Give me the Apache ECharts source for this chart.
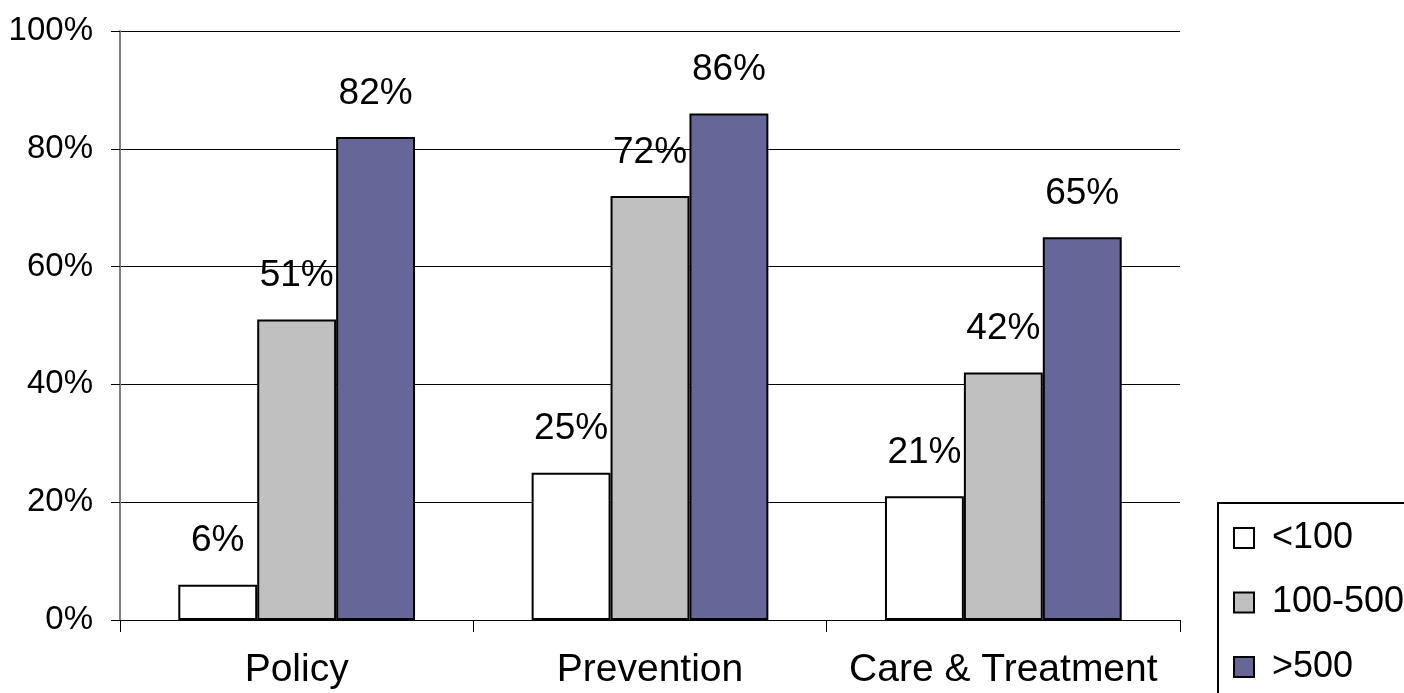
<!DOCTYPE html>
<html>
<head>
<meta charset="utf-8">
<script src="https://cdn.jsdelivr.net/npm/echarts@6/dist/echarts.min.js"></script>
<style>
html,body{margin:0;padding:0;background:#fff;}
#chart{width:1404px;height:693px;}
</style>
</head>
<body>
<div id="chart"></div>
<script>
const categories = ['Policy', 'Prevention', 'Care & Treatment'];
const seriesNames = ['<100', '100-500', '>500'];
const under100 = [6, 25, 21];
const from100to500 = [51, 72, 42];
const over500 = [82, 86, 65];
const yTicks = [0, 20, 40, 60, 80, 100];

const colors = ['#FFFFFF', '#C0C0C0', '#666699'];
const dataSets = [under100, from100to500, over500];
const FONT = '"Liberation Sans", Arial, sans-serif';

const chart = echarts.init(document.getElementById('chart'));
chart.setOption({
  animation: false,
  backgroundColor: '#fff',
  grid: { left: 120, right: 224, top: 31, bottom: 73, containLabel: false },
  legend: {
    orient: 'vertical',
    left: 1218,
    top: 503,
    height: 400,
    padding: [16, 10, 10, 15],
    borderColor: '#000',
    borderWidth: 2,
    icon: 'rect',
    itemWidth: 20,
    itemHeight: 20,
    itemGap: 26.5,
    textStyle: { fontFamily: FONT, fontSize: 36, color: '#000', lineHeight: 38, padding: [0, 0, 0, 13] },
    data: seriesNames
  },
  xAxis: {
    type: 'category',
    data: categories,
    axisLine: { lineStyle: { color: '#000', width: 1 } },
    axisTick: { show: true, length: 12, alignWithLabel: false, lineStyle: { color: '#000' } },
    axisLabel: { fontFamily: FONT, fontSize: 39, color: '#000', margin: 31, interval: 0 }
  },
  yAxis: {
    type: 'value',
    min: 0,
    max: 100,
    interval: 20,
    axisLine: { show: true, lineStyle: { color: '#808080', width: 2 } },
    axisTick: { show: true, length: 9, lineStyle: { color: '#000' } },
    splitLine: { show: true, lineStyle: { color: '#000', width: 1 } },
    axisLabel: {
      fontFamily: FONT, fontSize: 33, color: '#000', margin: 27,
      formatter: v => yTicks.includes(v) ? v + '%' : ''
    }
  },
  series: seriesNames.map((name, i) => ({
    name: name,
    type: 'bar',
    data: dataSets[i],
    barGap: 0,
    barCategoryGap: '33%',
    itemStyle: { color: colors[i], borderColor: '#000', borderWidth: 2 },
    label: {
      show: true,
      position: 'top',
      distance: 25,
      fontFamily: FONT,
      fontSize: 37,
      color: '#000',
      formatter: p => p.value + '%'
    }
  }))
});
</script>
</body>
</html>
